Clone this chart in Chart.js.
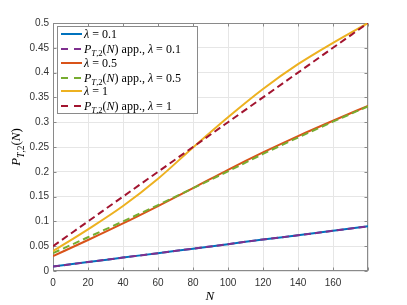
<!DOCTYPE html>
<html>
<head>
<meta charset="utf-8">
<script src="https://cdn.jsdelivr.net/npm/chart.js@4.4.0/dist/chart.umd.min.js"></script>
<style>
  html, body { margin: 0; padding: 0; background: #fff; }
</style>
</head>
<body>
<canvas id="myChart" width="407" height="305"></canvas>
<script>
"use strict";
// N values (x axis)
const nValues = [0, 20, 40, 60, 80, 100, 120, 140, 160, 180];

// series
const lam01 = [0.009, 0.018, 0.027, 0.036, 0.045, 0.054, 0.0635, 0.072, 0.081, 0.090];
const lam01App = [0.009, 0.018, 0.027, 0.036, 0.045, 0.054, 0.0635, 0.072, 0.081, 0.090];
const lam05 = [0.030, 0.0625, 0.096, 0.131, 0.167, 0.204, 0.239, 0.272, 0.303, 0.333];
const lam05App = [0.036, 0.068, 0.100, 0.133, 0.167, 0.201, 0.236, 0.269, 0.301, 0.332];
const lam1 = [0.040, 0.084, 0.131, 0.186, 0.249, 0.310, 0.367, 0.417, 0.460, 0.500];
const lam1App = [0.050, 0.100, 0.150, 0.200, 0.250, 0.300, 0.350, 0.400, 0.450, 0.500];

const legendLabels = [
    'λ = 0.1',
    'P_{T,2}(N) app., λ = 0.1',
    'λ = 0.5',
    'P_{T,2}(N) app., λ = 0.5',
    'λ = 1',
    'P_{T,2}(N) app., λ = 1'
];

const colors = ['#0072BD', '#7E2F8E', '#D95319', '#77AC30', '#EDB120', '#A2142F'];
const axisColor = '#8a8a8a';
const gridColor = '#e6e6e6';
const tickColor = '#333333';
const mathFont = '"Liberation Serif", "DejaVu Serif", serif';

function toPoints(arr) {
    return nValues.map((n, i) => ({ x: n, y: arr[i] }));
}

const series = [lam01, lam01App, lam05, lam05App, lam1, lam1App];
const datasets = series.map((arr, i) => ({
    label: legendLabels[i],
    data: toPoints(arr),
    borderColor: colors[i],
    backgroundColor: colors[i],
    borderWidth: 2,
    borderDash: i % 2 === 1 ? [7, 4] : [],
    pointRadius: 0,
    cubicInterpolationMode: 'monotone',
    fill: false,
    order: 10 - i
}));

// split a label like 'P_{T,2}(N) app.' into rich text parts
function parseMath(str, sub) {
    const parts = [];
    const re = /(_\{[^}]*\})|([A-Za-zλ]+)|([^A-Za-zλ_]+)/g;
    let m;
    while ((m = re.exec(str)) !== null) {
        if (m[1]) {
            parseMath(m[1].slice(2, -1), true).forEach(p => parts.push(p));
        } else if (m[2]) {
            parts.push({ text: m[2], italic: m[2].length === 1, sub: sub });
        } else {
            parts.push({ text: m[3], italic: false, sub: sub });
        }
    }
    return parts;
}

function setFont(ctx, p, size) {
    const s = p.sub ? size * 0.72 : size;
    ctx.font = (p.italic ? 'italic ' : '') + s + 'px ' + mathFont;
}

function measureMath(ctx, parts, size) {
    let w = 0;
    parts.forEach(p => { setFont(ctx, p, size); w += ctx.measureText(p.text).width; });
    return w;
}

function drawMath(ctx, parts, x, y, size) {
    ctx.textAlign = 'left';
    ctx.textBaseline = 'alphabetic';
    parts.forEach(p => {
        setFont(ctx, p, size);
        ctx.fillText(p.text, x, p.sub ? y + size * 0.28 : y);
        x += ctx.measureText(p.text).width;
    });
}

const matlabAxes = {
    id: 'matlabAxes',
    beforeDatasetsDraw(chart) {
        const { ctx, chartArea: a, scales } = chart;
        const l = Math.round(a.left) + 0.5, r = Math.round(a.right) - 0.5;
        const t = Math.round(a.top) + 0.5, b = Math.round(a.bottom) - 0.5;
        ctx.save();
        ctx.strokeStyle = axisColor;
        ctx.lineWidth = 1;
        ctx.strokeRect(l, t, r - l, b - t);
        ctx.beginPath();
        scales.x.ticks.forEach(tk => {
            const px = Math.round(scales.x.getPixelForValue(tk.value)) + 0.5;
            ctx.moveTo(px, b); ctx.lineTo(px, b - 3);
            ctx.moveTo(px, t); ctx.lineTo(px, t + 3);
        });
        scales.y.ticks.forEach(tk => {
            const py = Math.round(scales.y.getPixelForValue(tk.value)) + 0.5;
            ctx.moveTo(l, py); ctx.lineTo(l + 3, py);
            ctx.moveTo(r, py); ctx.lineTo(r - 3, py);
        });
        ctx.stroke();
        ctx.restore();
    },
    afterDraw(chart) {
        const { ctx, chartArea: a } = chart;
        ctx.save();
        ctx.fillStyle = '#000';

        // axis titles
        drawMath(ctx, parseMath('N', false), (a.left + a.right) / 2 - 5, 300, 13);
        const yTitle = parseMath('P_{T,2}(N)', false);
        const yw = measureMath(ctx, yTitle, 13);
        ctx.translate(20, (a.top + a.bottom) / 2);
        ctx.rotate(-Math.PI / 2);
        drawMath(ctx, yTitle, -yw / 2, 0, 13);
        ctx.setTransform(1, 0, 0, 1, 0, 0);

        // legend box
        const bx = 57.5, by = 26.5, bw = 140, bh = 87;
        ctx.fillStyle = '#fff';
        ctx.fillRect(bx, by, bw, bh);
        ctx.strokeStyle = axisColor;
        ctx.lineWidth = 1;
        ctx.strokeRect(bx, by, bw, bh);
        const rowY = [34, 49, 63, 78, 91, 106];
        chart.data.datasets.forEach((ds, i) => {
            const y = rowY[i];
            ctx.strokeStyle = ds.borderColor;
            ctx.lineWidth = 2;
            ctx.setLineDash(ds.borderDash.length ? [7, 6] : []);
            ctx.beginPath();
            ctx.moveTo(61, y); ctx.lineTo(82, y);
            ctx.stroke();
            ctx.setLineDash([]);
            ctx.fillStyle = '#000';
            drawMath(ctx, parseMath(ds.label, false), 84, y + 4, 12);
        });
        ctx.restore();
    }
};

const ctxChart = document.getElementById('myChart').getContext('2d');
const myChart = new Chart(ctxChart, {
    type: 'line',
    data: { datasets: datasets },
    options: {
        responsive: false,
        animation: false,
        layout: { padding: { left: 0, right: 39, top: 23, bottom: 0 } },
        plugins: {
            legend: { display: false },
            tooltip: { enabled: false }
        },
        scales: {
            x: {
                type: 'linear',
                min: 0,
                max: 180,
                afterFit: (scale) => { scale.height = 34; },
                grid: { color: gridColor, drawTicks: false },
                border: { display: false },
                ticks: {
                    stepSize: 20,
                    padding: 6,
                    color: tickColor,
                    maxRotation: 0,
                    font: { family: '"Liberation Sans", Arial, sans-serif', size: 10 },
                    callback: (v) => v === 180 ? '' : String(v)
                }
            },
            y: {
                min: 0,
                max: 0.5,
                afterFit: (scale) => { scale.width = 53; },
                grid: { color: gridColor, drawTicks: false },
                border: { display: false },
                ticks: {
                    stepSize: 0.05,
                    padding: 4,
                    color: tickColor,
                    font: { family: '"Liberation Sans", Arial, sans-serif', size: 10 },
                    callback: (v) => String(+v.toFixed(2))
                }
            }
        }
    },
    plugins: [matlabAxes]
});
</script>
</body>
</html>
